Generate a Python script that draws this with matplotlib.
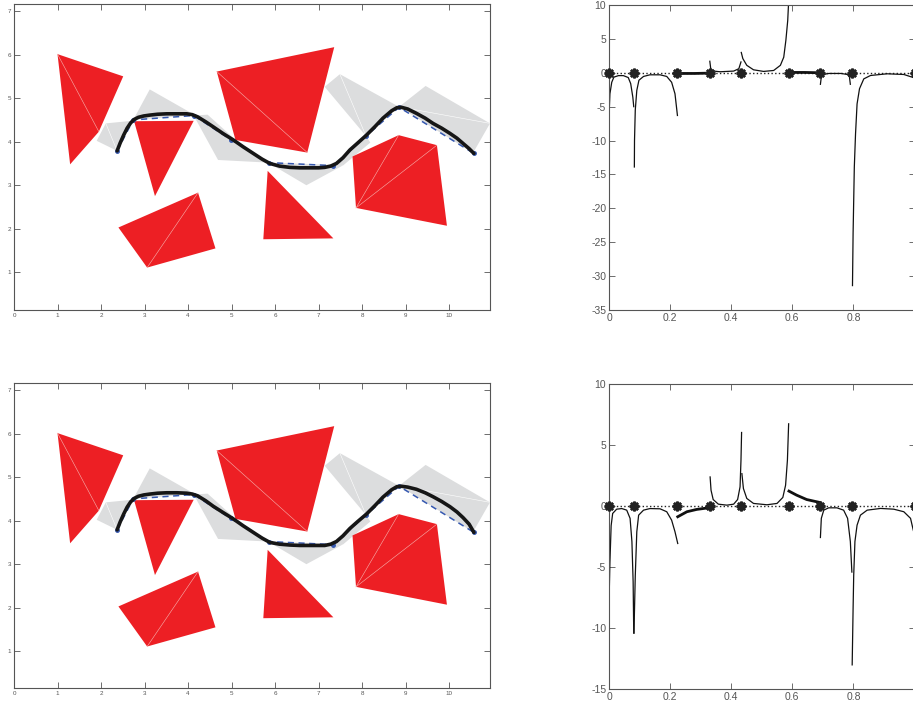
import matplotlib
matplotlib.use("Agg")
import matplotlib.pyplot as plt
from matplotlib.patches import Polygon

plt.rcParams['font.family'] = ['Liberation Sans', 'DejaVu Sans']

# ---------------- left panels: obstacles and paths ----------------
red_polys = [
    [(1.00, 6.01), (2.51, 5.50), (1.95, 4.23), (1.29, 3.48)],
    [(2.76, 4.47), (4.13, 4.48), (3.24, 2.75)],
    [(2.40, 2.03), (4.23, 2.83), (4.63, 1.55), (3.06, 1.11)],
    [(4.66, 5.61), (7.36, 6.17), (6.74, 3.75), (5.09, 4.04)],
    [(5.83, 3.33), (7.34, 1.78), (5.73, 1.76)],
    [(7.78, 3.66), (8.84, 4.15), (9.72, 3.92), (9.95, 2.07), (7.86, 2.48)],
]
red_diagonals = [
    [(1.00, 6.01), (1.95, 4.23)],
    [(3.06, 1.11), (4.23, 2.83)],
    [(4.66, 5.61), (6.74, 3.75)],
    [(7.86, 2.48), (8.84, 4.15)],
    [(7.86, 2.48), (9.72, 3.92)],
]
gray_polys = [
    [(1.90, 4.02), (2.11, 4.42), (2.72, 4.48), (2.37, 3.79)],
    [(2.74, 4.50), (3.12, 5.20), (4.16, 4.61)],
    [(4.13, 4.60), (4.45, 4.62), (5.05, 4.08), (5.84, 3.52), (4.69, 3.58)],
    [(5.84, 3.52), (6.72, 3.00), (7.57, 3.46), (7.33, 3.47)],
    [(7.14, 5.26), (7.49, 5.55), (8.85, 4.80), (8.09, 4.13)],
    [(7.33, 3.47), (8.09, 4.13), (8.19, 3.98), (7.57, 3.46)],
    [(8.85, 4.80), (9.46, 5.28), (10.94, 4.42), (10.55, 3.74)],
]
gray_diagonals = [
    [(2.11, 4.42), (2.37, 3.79)],
    [(7.49, 5.55), (8.09, 4.13)],
    [(8.85, 4.80), (10.94, 4.42)],
]
path_x = [2.37, 2.74, 4.13, 4.98, 5.85, 7.34, 8.09, 8.85, 10.57]
path_y = [3.79, 4.50, 4.60, 4.05, 3.52, 3.45, 4.13, 4.79, 3.73]

smooth_top_x = [2.37, 2.44, 2.52, 2.60, 2.68, 2.76, 2.86, 2.98, 3.12, 3.30, 3.51, 3.75, 3.97, 4.10,
                4.22, 4.40, 4.58, 4.80, 5.04, 5.27, 5.50, 5.70, 5.88, 6.10, 6.34, 6.57, 6.80, 7.00,
                7.14, 7.28, 7.41, 7.56, 7.72, 7.90, 8.10, 8.30, 8.48, 8.68, 8.80, 8.90, 9.05, 9.25,
                9.45, 9.63, 9.83, 10.02, 10.18, 10.32, 10.46, 10.57]
smooth_top_y = [3.79, 3.97, 4.15, 4.31, 4.43, 4.51, 4.56, 4.59, 4.61, 4.63, 4.64, 4.64, 4.64, 4.62,
                4.57, 4.46, 4.34, 4.19, 4.04, 3.88, 3.73, 3.60, 3.50, 3.44, 3.41, 3.40, 3.40, 3.40,
                3.41, 3.44, 3.50, 3.63, 3.81, 3.97, 4.15, 4.35, 4.54, 4.71, 4.78, 4.79, 4.75, 4.65,
                4.54, 4.42, 4.31, 4.19, 4.08, 3.96, 3.84, 3.73]
smooth_bot_x = [2.37, 2.44, 2.52, 2.60, 2.68, 2.76, 2.86, 2.98, 3.12, 3.30, 3.51, 3.75, 3.97, 4.10,
                4.22, 4.40, 4.58, 4.80, 5.04, 5.27, 5.50, 5.70, 5.88, 6.10, 6.34, 6.57, 6.80, 7.00,
                7.14, 7.28, 7.41, 7.56, 7.72, 7.90, 8.10, 8.30, 8.48, 8.68, 8.80, 8.90, 9.05, 9.25,
                9.45, 9.63, 9.83, 10.02, 10.18, 10.32, 10.46, 10.57]
smooth_bot_y = [3.79, 3.97, 4.15, 4.31, 4.43, 4.51, 4.56, 4.59, 4.61, 4.63, 4.64, 4.64, 4.63, 4.61,
                4.57, 4.46, 4.33, 4.19, 4.04, 3.88, 3.73, 3.60, 3.50, 3.46, 3.44, 3.43, 3.43, 3.43,
                3.43, 3.46, 3.52, 3.65, 3.82, 3.98, 4.15, 4.35, 4.54, 4.71, 4.78, 4.79, 4.77, 4.72,
                4.64, 4.55, 4.44, 4.32, 4.20, 4.07, 3.92, 3.73]

left_xticks = list(range(0, 11))
left_yticks = list(range(1, 8))

# ---------------- right panels: curves between nodes ----------------
nodes_x = [0.0, 0.082, 0.224, 0.330, 0.433, 0.589, 0.692, 0.795, 1.0]

top_s1 = [(0.0, -6.5), (0.003, -3.1), (0.009, -1.4), (0.016, -0.64), (0.031, -0.42), (0.047, -0.42),
          (0.063, -0.7), (0.071, -1.6), (0.078, -3.6), (0.081, -5.0)]
top_s2 = [(0.083, -13.9), (0.0835, -10.0), (0.086, -5.5), (0.091, -2.6), (0.098, -1.1), (0.113, -0.54),
          (0.134, -0.3), (0.167, -0.3), (0.189, -0.54), (0.205, -1.4), (0.216, -3.1), (0.224, -6.3)]
top_s3 = [(0.225, -0.1), (0.28, -0.1), (0.33, -0.05)]
top_s4 = [(0.330, 1.7), (0.333, 0.6), (0.342, 0.25), (0.364, 0.15), (0.408, 0.25), (0.425, 0.6),
          (0.432, 1.6)]
top_s5 = [(0.433, 3.0), (0.438, 2.1), (0.451, 1.1), (0.473, 0.44), (0.506, 0.2), (0.539, 0.34),
          (0.561, 1.1), (0.572, 2.3), (0.579, 4.8), (0.585, 7.7), (0.588, 10.5)]
top_s6 = [(0.589, 0.05), (0.64, 0.05), (0.692, 0.0)]
top_s7 = [(0.692, -1.7), (0.695, -0.6), (0.700, -0.25), (0.720, -0.1), (0.760, -0.1), (0.780, -0.25),
          (0.787, -0.6), (0.790, -1.7)]
top_s8 = [(0.797, -31.4), (0.799, -23.7), (0.801, -18.8), (0.803, -13.9), (0.807, -9.0), (0.812, -4.6),
          (0.820, -2.35), (0.834, -0.9), (0.856, -0.4), (0.910, -0.15), (0.965, -0.25), (0.996, -0.7),
          (1.0, -0.8)]
top_thin = [top_s1, top_s2, top_s4, top_s5, top_s7, top_s8]
top_thick = [top_s3, top_s6]

bot_s1 = [(0.0, -8.0), (0.003, -4.6), (0.007, -1.6), (0.012, -0.6), (0.025, -0.25), (0.042, -0.2),
          (0.058, -0.33), (0.069, -1.0), (0.075, -2.9), (0.079, -6.2), (0.081, -10.4)]
bot_s2 = [(0.082, -10.4), (0.083, -9.0), (0.086, -5.7), (0.091, -2.1), (0.097, -0.74), (0.113, -0.33),
          (0.134, -0.2), (0.167, -0.22), (0.189, -0.46), (0.205, -1.15), (0.216, -2.1), (0.225, -3.06)]
bot_s3 = [(0.225, -0.87), (0.255, -0.46), (0.287, -0.27), (0.326, -0.14)]
bot_s4 = [(0.331, 2.39), (0.334, 1.30), (0.341, 0.54), (0.358, 0.16), (0.386, 0.08), (0.408, 0.16),
          (0.421, 0.54), (0.429, 1.58), (0.432, 3.75), (0.434, 6.03)]
bot_s5 = [(0.435, 2.66), (0.440, 1.44), (0.451, 0.63), (0.473, 0.22), (0.517, 0.11), (0.550, 0.22),
          (0.569, 0.71), (0.578, 1.71), (0.584, 3.75), (0.588, 6.74)]
bot_s6 = [(0.589, 1.23), (0.614, 0.90), (0.647, 0.54), (0.690, 0.30)]
bot_s7 = [(0.692, -2.57), (0.695, -1.0), (0.703, -0.33), (0.719, -0.14), (0.746, -0.14), (0.768, -0.33),
          (0.781, -1.0), (0.790, -2.9), (0.795, -5.4)]
bot_s8 = [(0.796, -13.0), (0.799, -8.4), (0.801, -5.66), (0.805, -2.9), (0.812, -1.56), (0.823, -0.74),
          (0.845, -0.33), (0.889, -0.19), (0.932, -0.25), (0.965, -0.46), (0.987, -1.0), (0.996, -1.97),
          (1.0, -2.3)]
bot_thin = [bot_s1, bot_s2, bot_s4, bot_s5, bot_s7, bot_s8]
bot_thick = [bot_s3, bot_s6]

right_xticks = [0, 0.2, 0.4, 0.6, 0.8, 1.0]
right_xlabels = ['0', '0.2', '0.4', '0.6', '0.8', '']
top_yticks = [-35, -30, -25, -20, -15, -10, -5, 0, 5, 10]
bot_yticks = [-15, -10, -5, 0, 5, 10]

# ---------------- figure ----------------
W, H = 913, 704
fig = plt.figure(figsize=(W / 100, H / 100), dpi=100)


def ax_at(l, t, r, b):
    return fig.add_axes([l / W, 1 - b / H, (r - l) / W, (b - t) / H])


AX_COL = '#555555'
RED = '#ED1F24'
GRAY = '#DCDDDE'


def style(ax, fs):
    for s in ax.spines.values():
        s.set_color(AX_COL)
        s.set_linewidth(0.8)
    ax.tick_params(direction='in', top=True, right=True, length=4, width=0.6,
                   colors=AX_COL, labelsize=fs, pad=2)


def left_panel(ax, sx, sy, ylo):
    for p in gray_polys:
        ax.add_patch(Polygon(p, closed=True, facecolor=GRAY, edgecolor='none', zorder=1))
    for seg in gray_diagonals:
        ax.plot([seg[0][0], seg[1][0]], [seg[0][1], seg[1][1]], color='white', lw=0.4, zorder=1.5)
    for p in red_polys:
        ax.add_patch(Polygon(p, closed=True, facecolor=RED, edgecolor='none', zorder=2))
    for seg in red_diagonals:
        ax.plot([seg[0][0], seg[1][0]], [seg[0][1], seg[1][1]], color='#F6B4B0', lw=0.4, zorder=2.5)
    ax.plot(path_x, path_y, '--', color='#3558B0', lw=1.1, dashes=(4, 3), marker='o', ms=2.5,
            zorder=3)
    ax.plot(sx, sy, '-', color='#161616', lw=2.6, zorder=4, solid_capstyle='round',
            solid_joinstyle='round')
    ax.set_xlim(0, 10.94)
    ax.set_ylim(ylo, 7.154)
    ax.set_xticks(left_xticks)
    ax.set_yticks(left_yticks)
    style(ax, 4.5)


def right_panel(ax, thin, thick, ylim, yticks):
    ax.plot([0, 1], [0, 0], ':', color='#222222', lw=1.0, zorder=1)
    for s in thin:
        ax.plot([p[0] for p in s], [p[1] for p in s], '-', color='#111111', lw=0.9, zorder=2)
    for s in thick:
        ax.plot([p[0] for p in s], [p[1] for p in s], '-', color='#111111', lw=2.0, zorder=2)
    ax.plot(nodes_x, [0] * len(nodes_x), linestyle='none', marker=(8, 2, 0), ms=7, mew=1.8,
            color='#222222', zorder=3, clip_on=False)
    ax.set_xlim(0, 1)
    ax.set_ylim(*ylim)
    ax.set_xticks(right_xticks)
    ax.set_xticklabels(right_xlabels)
    ax.set_yticks(yticks)
    ax.set_yticklabels([str(v) for v in yticks])
    style(ax, 7.5)


ax1 = ax_at(14, 4.3, 490, 310)
left_panel(ax1, smooth_top_x, smooth_top_y, 0.136)
ax3 = ax_at(14, 383.3, 490, 688.3)
left_panel(ax3, smooth_bot_x, smooth_bot_y, 0.15)

ax2 = ax_at(609, 5, 914.5, 310)
right_panel(ax2, top_thin, top_thick, (-35, 10), top_yticks)
ax4 = ax_at(609, 384, 914.5, 689.3)
right_panel(ax4, bot_thin, bot_thick, (-15, 10), bot_yticks)

fig.savefig('out.png', dpi=100)
